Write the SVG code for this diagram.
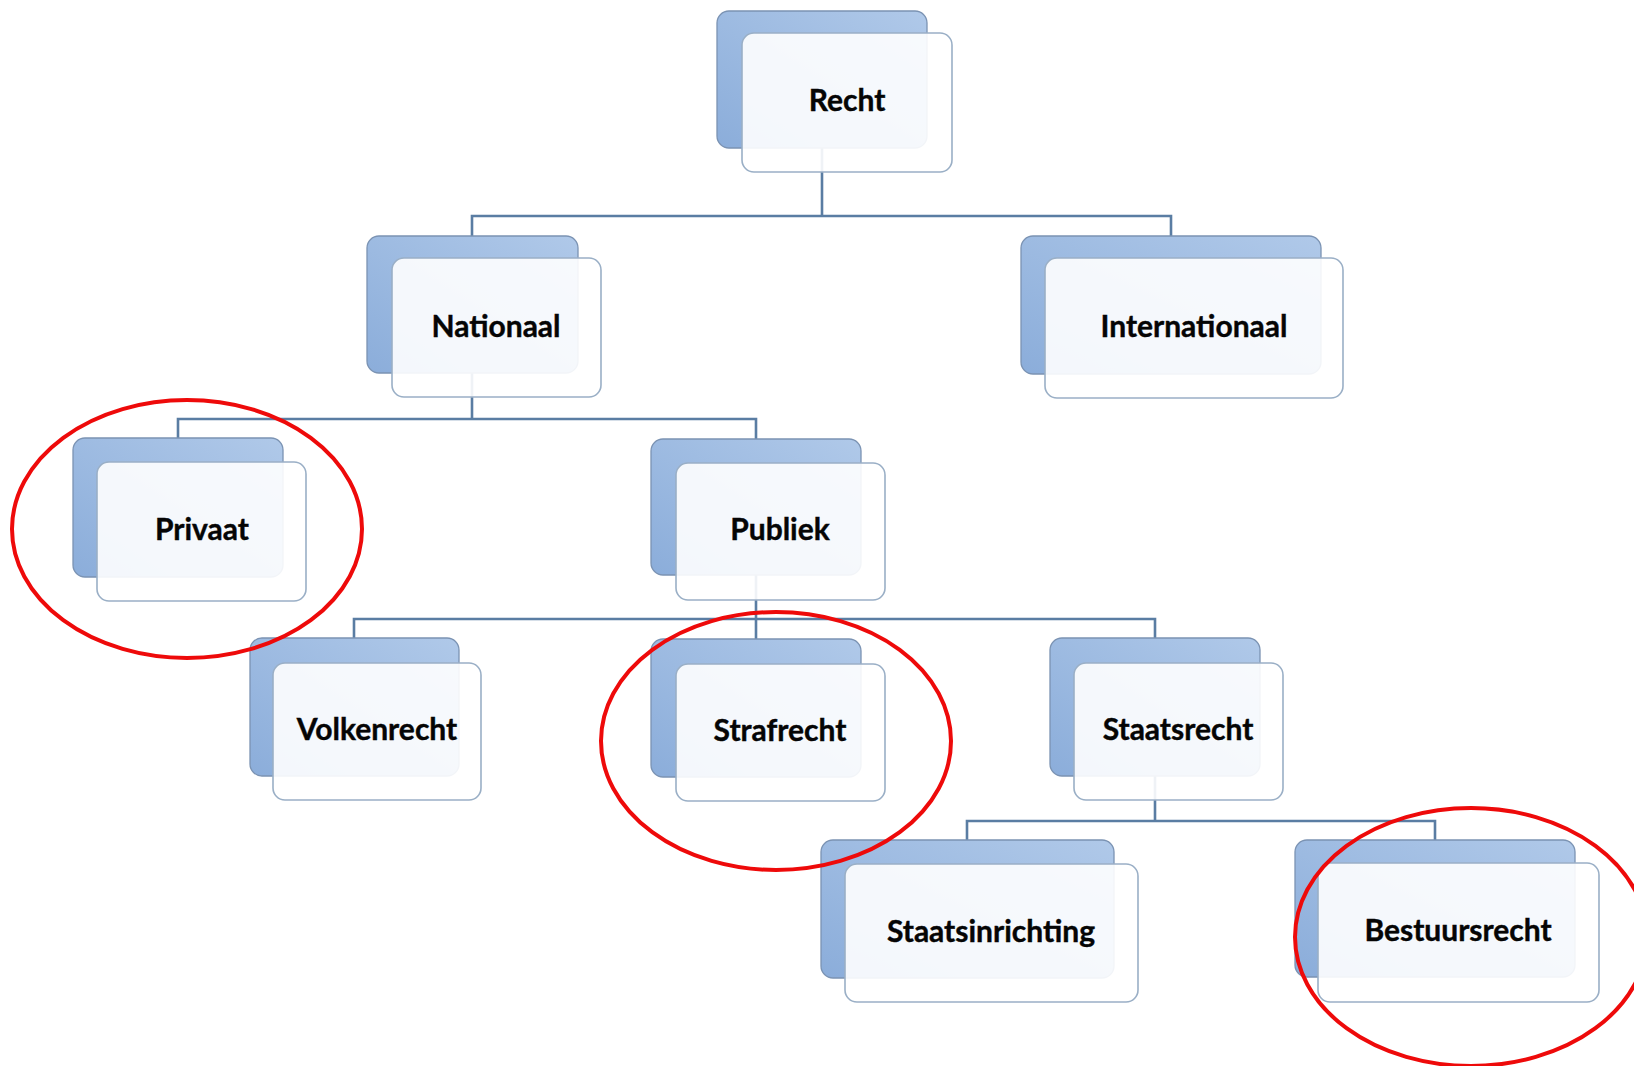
<svg xmlns="http://www.w3.org/2000/svg" width="1634" height="1066" viewBox="0 0 1634 1066">
<defs>
<linearGradient id="bg" x1="1" y1="0" x2="0" y2="1">
<stop offset="0" stop-color="#b0c9e9"/>
<stop offset="1" stop-color="#8badda"/>
</linearGradient>
<style>
.back{fill:url(#bg);stroke:#7b93b3;stroke-width:1.3}
.front{fill:#ffffff;fill-opacity:0.9;stroke:#9aafc6;stroke-width:1.6}
.lbl{font-family:Lato,"Liberation Sans",sans-serif;font-weight:bold;font-size:30px;fill:#050505;text-anchor:middle;stroke:#050505;stroke-width:0.4}
.conn{fill:none;stroke:#5a7da3;stroke-width:2.6}
.mark{fill:none;stroke:#ee0a0a;stroke-width:4}
</style>
</defs>
<rect width="1634" height="1066" fill="#ffffff"/>
<g id="connectors">
<path class="conn" d="M822 148 V216 M472 236 V216 H1171 V236"/>
<path class="conn" d="M472 373 V419 M178 438 V419 H756 V439"/>
<path class="conn" d="M756 575 V619 M354 638 V619 H1155 V638 M756 619 V639"/>
<path class="conn" d="M1155 775 V821 M967 840 V821 H1435 V840"/>
</g>
<g id="node-recht">
<rect class="back" x="717" y="11" width="210" height="137" rx="12"/>
<rect class="front" x="742" y="33" width="210" height="139" rx="12"/>
<text class="lbl" x="847" y="111">Recht</text>
</g>
<g id="node-nationaal">
<rect class="back" x="367" y="236" width="211" height="137" rx="12"/>
<rect class="front" x="392" y="258" width="209" height="139" rx="12"/>
<text class="lbl" x="496" y="337">Nationaal</text>
</g>
<g id="node-internationaal">
<rect class="back" x="1021" y="236" width="300" height="138" rx="12"/>
<rect class="front" x="1045" y="258" width="298" height="140" rx="12"/>
<text class="lbl" x="1194" y="337">Internationaal</text>
</g>
<g id="node-privaat">
<rect class="back" x="73" y="438" width="210" height="139" rx="12"/>
<rect class="front" x="97" y="462" width="209" height="139" rx="12"/>
<text class="lbl" x="202" y="540">Privaat</text>
</g>
<g id="node-publiek">
<rect class="back" x="651" y="439" width="210" height="136" rx="12"/>
<rect class="front" x="676" y="463" width="209" height="137" rx="12"/>
<text class="lbl" x="780" y="540">Publiek</text>
</g>
<g id="node-volkenrecht">
<rect class="back" x="250" y="638" width="209" height="138" rx="12"/>
<rect class="front" x="273" y="663" width="208" height="137" rx="12"/>
<text class="lbl" x="377" y="740">Volkenrecht</text>
</g>
<g id="node-strafrecht">
<rect class="back" x="651" y="639" width="210" height="138" rx="12"/>
<rect class="front" x="676" y="664" width="209" height="137" rx="12"/>
<text class="lbl" x="780" y="741">Strafrecht</text>
</g>
<g id="node-staatsrecht">
<rect class="back" x="1050" y="638" width="210" height="138" rx="12"/>
<rect class="front" x="1074" y="663" width="209" height="137" rx="12"/>
<text class="lbl" x="1178" y="740">Staatsrecht</text>
</g>
<g id="node-staatsinrichting">
<rect class="back" x="821" y="840" width="293" height="138" rx="12"/>
<rect class="front" x="845" y="864" width="293" height="138" rx="12"/>
<text class="lbl" x="991" y="942">Staatsinrichting</text>
</g>
<g id="node-bestuursrecht">
<rect class="back" x="1295" y="840" width="280" height="137" rx="12"/>
<rect class="front" x="1318" y="863" width="281" height="139" rx="12"/>
<text class="lbl" x="1458" y="941">Bestuursrecht</text>
</g>
<g id="highlights">
<ellipse class="mark" cx="187" cy="529" rx="175" ry="129"/>
<ellipse class="mark" cx="776" cy="741" rx="175" ry="129"/>
<ellipse class="mark" cx="1471" cy="937" rx="176" ry="129"/>
</g>
</svg>
